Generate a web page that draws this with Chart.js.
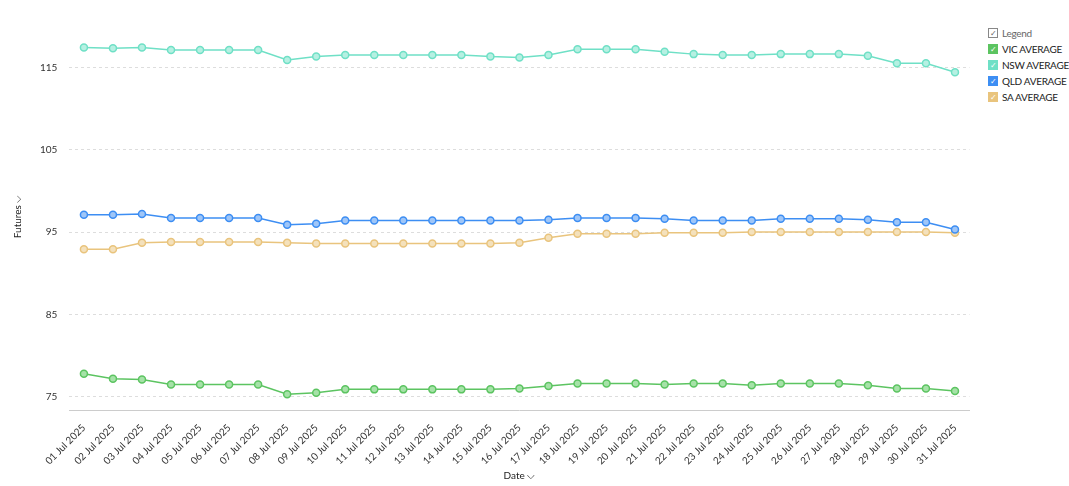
<!DOCTYPE html>
<html><head><meta charset="utf-8">
<script src="https://cdn.jsdelivr.net/npm/chart.js@4"></script>
<style>
body{margin:0;background:#fff;font-family:Lato,sans-serif;}
#wrap{position:absolute;left:0;top:0;width:975px;height:486px;}
#legend{position:absolute;left:988px;top:25px;font-size:10px;color:#222;white-space:nowrap;letter-spacing:-0.3px;}
#legend div{height:16px;line-height:12px;display:flex;align-items:center;}
#legend span.b{display:inline-block;width:10px;height:10px;margin-right:4px;color:#fff;font-size:8px;line-height:10px;text-align:center;}
</style></head><body>
<div id="wrap"><canvas id="myChart"></canvas></div>
<div id="legend"></div>
<script>
const dates = ["01 Jul 2025","02 Jul 2025","03 Jul 2025","04 Jul 2025","05 Jul 2025","06 Jul 2025","07 Jul 2025","08 Jul 2025","09 Jul 2025","10 Jul 2025","11 Jul 2025","12 Jul 2025","13 Jul 2025","14 Jul 2025","15 Jul 2025","16 Jul 2025","17 Jul 2025","18 Jul 2025","19 Jul 2025","20 Jul 2025","21 Jul 2025","22 Jul 2025","23 Jul 2025","24 Jul 2025","25 Jul 2025","26 Jul 2025","27 Jul 2025","28 Jul 2025","29 Jul 2025","30 Jul 2025","31 Jul 2025"];
const vic = [77.8,77.2,77.1,76.5,76.5,76.5,76.5,75.3,75.5,75.9,75.9,75.9,75.9,75.9,75.9,76.0,76.3,76.6,76.6,76.6,76.5,76.6,76.6,76.4,76.6,76.6,76.6,76.4,76.0,76.0,75.7];
const nsw = [117.4,117.3,117.4,117.1,117.1,117.1,117.1,115.9,116.3,116.5,116.5,116.5,116.5,116.5,116.3,116.2,116.5,117.2,117.2,117.2,116.9,116.6,116.5,116.5,116.6,116.6,116.6,116.4,115.5,115.5,114.4];
const qld = [97.1,97.1,97.2,96.7,96.7,96.7,96.7,95.9,96.0,96.4,96.4,96.4,96.4,96.4,96.4,96.4,96.5,96.7,96.7,96.7,96.6,96.4,96.4,96.4,96.6,96.6,96.6,96.5,96.2,96.2,95.3];
const sa = [92.9,92.9,93.7,93.8,93.8,93.8,93.8,93.7,93.6,93.6,93.6,93.6,93.6,93.6,93.6,93.7,94.3,94.8,94.8,94.8,94.9,94.9,94.9,95.0,95.0,95.0,95.0,95.0,95.0,95.0,94.9];
const yTicks = [75,85,95,105,115];

const series = [
  {label:"VIC AVERAGE", data:vic, color:"#5cc461", light:"#a6e2a8"},
  {label:"NSW AVERAGE", data:nsw, color:"#6fe0c6", light:"#b6f0e2"},
  {label:"QLD AVERAGE", data:qld, color:"#3d8ef3", light:"#9fc6f8"},
  {label:"SA AVERAGE", data:sa, color:"#e9c47d", light:"#f4e1bc"}
];

const data = {
  labels: dates,
  datasets: series.map(s => ({
    label: s.label, data: s.data,
    borderColor: s.color, backgroundColor: s.light,
    pointBorderColor: s.color, pointBackgroundColor: s.light,
    borderWidth: 1.5, pointRadius: 3.5, pointBorderWidth: 1.5, tension: 0
  }))
};

const config = {
  type: "line",
  data,
  options: {
    responsive: false, animation: false,
    layout: {padding: {top: 22, left: 8, right: 0}},
    plugins: {legend: {display: false}, tooltip: {enabled: false}},
    scales: {
      x: {
        offset: true,
        grid: {display: false},
        border: {color: "#ccc"},
        ticks: {maxRotation: 45, minRotation: 45, color: "#333", font: {family: "Lato", size: 10}},
        title: {display: true, text: "Date ⌵", color: "#222", font: {family: "Lato", size: 10}, padding: {top: 0}}
      },
      y: {
        min: 73.3, max: 120.5,
        afterBuildTicks: ax => { ax.ticks = yTicks.map(v => ({value: v})); },
        grid: {color: "#ddd", borderDash: [3, 3], drawTicks: false},
        border: {display: false, dash: [3, 3]},
        ticks: {color: "#333", padding: 12, font: {family: "Lato", size: 10}},
        title: {display: true, text: "Futures ⌵", color: "#222", font: {family: "Lato", size: 10}}
      }
    }
  }
};

const cv = document.getElementById("myChart");
cv.width = 975; cv.height = 486;
const myChart = new Chart(cv, config);

const lg = document.getElementById("legend");
lg.innerHTML = '<div><span class="b" style="border:1px solid #888;color:#666;width:8px;height:8px;line-height:8px">✓</span><span style="color:#666">Legend</span></div>' +
  series.map(s => `<div><span class="b" style="background:${s.color}">✓</span>${s.label}</div>`).join("");
</script>
</body></html>
